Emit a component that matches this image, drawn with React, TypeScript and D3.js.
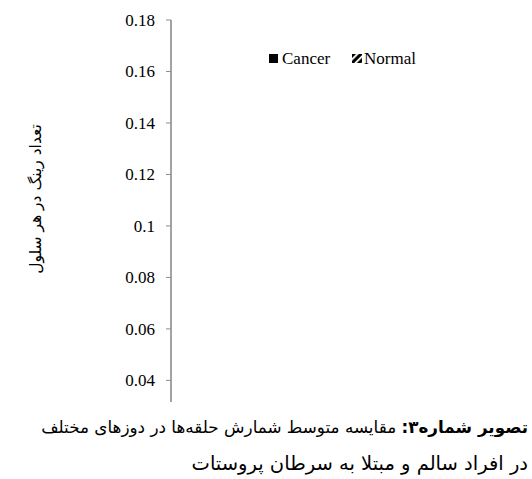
import React from "react";
import * as d3 from "d3";

const seriesNames = ["Cancer", "Normal"];
const yTicks = [0.04, 0.06, 0.08, 0.1, 0.12, 0.14, 0.16, 0.18];
const yDomain = [0.0316, 0.18];
const yTitle = "تعداد رینگ در هر سلول";
const captionBold = "تصویر شماره۳:";
const captionLine1 = " مقایسه متوسط شمارش حلقه‌ها در دوزهای مختلف";
const captionLine2 = "در افراد سالم و مبتلا به سرطان پروستات";

const serif = { fontFamily: "Liberation Serif, Times New Roman, serif" };
const persian = { fontFamily: "DejaVu Sans, sans-serif" };

export default function App() {
  const W = 532;
  const H = 479;
  const axisX = 171;
  const y = d3.scaleLinear().domain(yDomain).range([402, 20]);
  const fmt = (v: number) => String(v);
  return (
    <svg
      width={W}
      height={H}
      style={{ position: "absolute", left: 0, top: 0, background: "#fff" }}
    >
      <defs>
        <pattern id="diag" width="5" height="5" patternUnits="userSpaceOnUse" patternTransform="rotate(-45)">
          <rect width="5" height="5" fill="#000" />
          <rect width="5" height="1.8" fill="#fff" />
        </pattern>
      </defs>
      {/* y axis */}
      <line x1={axisX} x2={axisX} y1={y(yDomain[1])} y2={y(yDomain[0])} stroke="#8c8c8c" strokeWidth={1.6} />
      {yTicks.map((t) => (
        <g key={t}>
          <line x1={axisX - 5} x2={axisX} y1={y(t)} y2={y(t)} stroke="#8c8c8c" strokeWidth={1} />
          <text
            x={155}
            y={y(t)}
            dy="0.35em"
            textAnchor="end"
            style={serif}
            fontSize={17}
            fill="#000"
          >
            {fmt(t)}
          </text>
        </g>
      ))}
      {/* y title */}
      <text
        transform={`translate(41,199) rotate(-90)`}
        textAnchor="middle"
        style={persian}
        fontSize={15.5}
        direction="rtl"
        fill="#000"
      >
        {yTitle}
      </text>
      {/* legend */}
      <g>
        <rect x={269} y={54} width={9} height={9} fill="#000" />
        <text x={282} y={64} style={serif} fontSize={17} fill="#000">
          {seriesNames[0]}
        </text>
        <rect x={352} y={54} width={10} height={9} fill="url(#diag)" />
        <text x={364} y={64} style={serif} fontSize={17} fill="#000">
          {seriesNames[1]}
        </text>
      </g>
      {/* caption */}
      <text
        x={528}
        y={433}
        textAnchor="start"
        direction="rtl"
        style={persian}
        fontSize={16.8}
        fill="#000"
      >
        <tspan fontWeight="bold">{captionBold}</tspan>
        <tspan>{captionLine1}</tspan>
      </text>
      <text
        x={528}
        y={470}
        textAnchor="start"
        direction="rtl"
        style={persian}
        fontSize={19.5}
        fill="#000"
      >
        {captionLine2}
      </text>
    </svg>
  );
}
